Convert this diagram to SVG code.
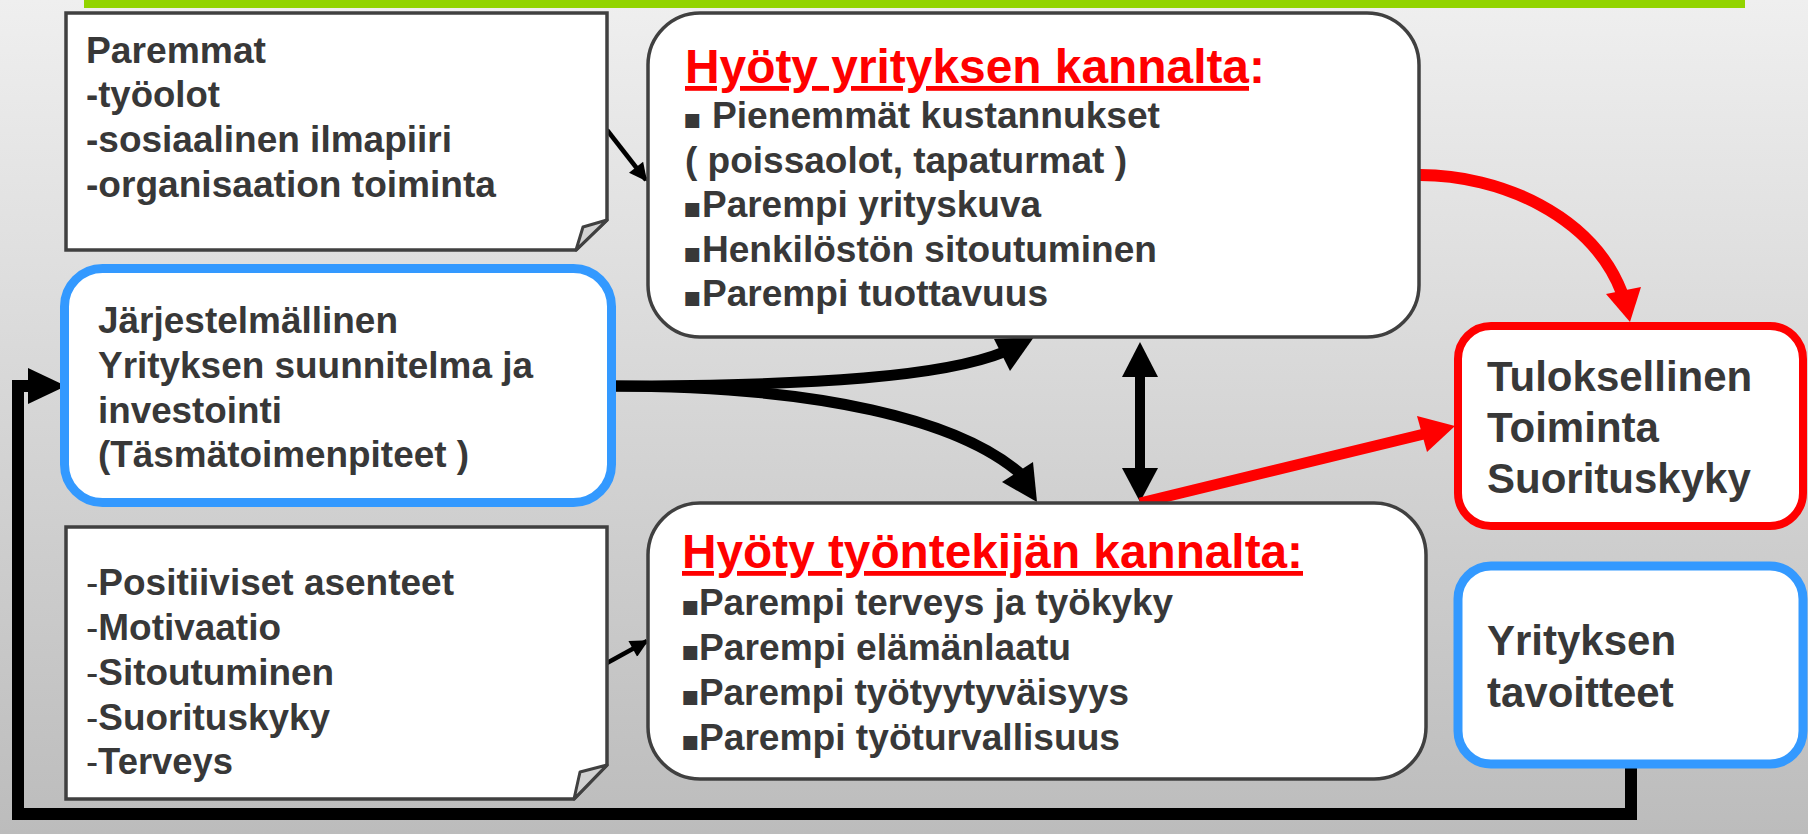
<svg xmlns="http://www.w3.org/2000/svg" width="1808" height="834" viewBox="0 0 1808 834">
<defs>
  <linearGradient id="bg" x1="0" y1="0" x2="0" y2="1">
    <stop offset="0" stop-color="#EFEFEF"/>
    <stop offset="1" stop-color="#BCBCBC"/>
  </linearGradient>
  <marker id="ahs" viewBox="0 0 10 10" refX="9" refY="5" markerWidth="4.5" markerHeight="4" orient="auto">
    <path d="M0,0 L10,5 L0,10 z" fill="#000"/>
  </marker>
  <style>
    .t{font-family:"Liberation Sans",Arial,sans-serif;font-weight:bold;font-size:36px;fill:#383838}
    .r{font-family:"Liberation Sans",Arial,sans-serif;font-weight:bold;font-size:42px;fill:#383838}
    .ttl{font-family:"Liberation Sans",Arial,sans-serif;font-weight:bold;font-size:48px;fill:#FF0000}
    .b{font-family:"DejaVu Sans",sans-serif;font-size:28px;font-weight:normal}
    .n{font-weight:normal}
    .note{fill:#fff;stroke:#404040;stroke-width:3.5;stroke-linejoin:miter}
    .fold{fill:#D2D2D2;stroke:#404040;stroke-width:3;stroke-linejoin:round}
    .mid{fill:#fff;stroke:#404040;stroke-width:3.5}
    .blue{fill:#fff;stroke:#3399FF;stroke-width:9}
    .red{fill:#fff;stroke:#FF0000;stroke-width:8}
    .blk{fill:none;stroke:#000}
    .rl{fill:none;stroke:#FF0000}
  </style>
</defs>
<rect x="0" y="0" width="1808" height="834" fill="url(#bg)"/>
<rect x="84" y="0" width="1661" height="8" fill="#92D400"/>

<g id="connectors">
  <!-- feedback loop -->
  <polyline class="blk" stroke-width="12" stroke-linejoin="miter" points="1631,766 1631,814 18,814 18,386 34,386"/>
  <polygon points="28,368 66,386 28,404" fill="#000"/>
  <!-- small arrows from notes -->
  <line class="blk" stroke-width="4.5" x1="607" y1="130" x2="646" y2="180" marker-end="url(#ahs)"/>
  <line class="blk" stroke-width="4.5" x1="607" y1="663" x2="647" y2="641" marker-end="url(#ahs)"/>
  <!-- split arrows from blue box -->
  <path class="blk" stroke-width="11" d="M610 386 C820 386 945 376 1004 352"/>
  <polygon points="994,339 1034,337 1010,371" fill="#000"/>
  <path class="blk" stroke-width="11" d="M610 386 C820 386 960 420 1022 475"/>
  <polygon points="1002,482 1033,462 1037,502" fill="#000"/>
  <!-- double headed vertical -->
  <line class="blk" stroke-width="10" x1="1140" y1="374" x2="1140" y2="471"/>
  <polygon points="1122,377 1140,342 1158,377" fill="#000"/>
  <polygon points="1122,468 1140,502 1158,468" fill="#000"/>
  <!-- red arrows -->
  <path class="rl" stroke-width="12" d="M1420 175 C1500 175 1592 215 1622 293"/>
  <polygon points="1606,294 1641,287 1630,322" fill="#FF0000"/>
  <line class="rl" stroke-width="11" x1="1140" y1="503" x2="1424" y2="434"/>
  <polygon points="1417,416 1455,426 1427,452" fill="#FF0000"/>
</g>

<g id="note-top">
  <path class="note" d="M66 13 H607 V220 L576 250 H66 Z"/>
  <path class="fold" d="M607 220 L583 227 L576 250 Z"/>
  <text class="t" x="86" y="63" textLength="180" lengthAdjust="spacingAndGlyphs">Paremmat</text>
  <text class="t" x="86" y="107" textLength="134" lengthAdjust="spacingAndGlyphs">-työolot</text>
  <text class="t" x="86" y="152" textLength="366" lengthAdjust="spacingAndGlyphs">-sosiaalinen ilmapiiri</text>
  <text class="t" x="86" y="197" textLength="410" lengthAdjust="spacingAndGlyphs">-organisaation toiminta</text>
</g>

<g id="plan">
  <rect class="blue" x="64.5" y="268.5" width="547" height="234" rx="38"/>
  <text class="t" x="98" y="333" textLength="300" lengthAdjust="spacingAndGlyphs">Järjestelmällinen</text>
  <text class="t" x="98" y="378" textLength="435" lengthAdjust="spacingAndGlyphs">Yrityksen suunnitelma ja</text>
  <text class="t" x="98" y="423" textLength="184" lengthAdjust="spacingAndGlyphs">investointi</text>
  <text class="t" x="98" y="467" textLength="371" lengthAdjust="spacingAndGlyphs">(Täsmätoimenpiteet )</text>
</g>

<g id="note-bottom">
  <path class="note" d="M66 527 H607 V765 L574 799 H66 Z"/>
  <path class="fold" d="M607 765 L580 772 L574 799 Z"/>
  <text class="t" x="86" y="595" textLength="368" lengthAdjust="spacingAndGlyphs"><tspan class="n">-</tspan>Positiiviset asenteet</text>
  <text class="t" x="86" y="640" textLength="195" lengthAdjust="spacingAndGlyphs"><tspan class="n">-</tspan>Motivaatio</text>
  <text class="t" x="86" y="685" textLength="248" lengthAdjust="spacingAndGlyphs"><tspan class="n">-</tspan>Sitoutuminen</text>
  <text class="t" x="86" y="730" textLength="244" lengthAdjust="spacingAndGlyphs"><tspan class="n">-</tspan>Suorituskyky</text>
  <text class="t" x="86" y="774" textLength="147" lengthAdjust="spacingAndGlyphs"><tspan class="n">-</tspan>Terveys</text>
</g>

<g id="company-benefit">
  <rect class="mid" x="648" y="13" width="771" height="324" rx="52"/>
  <text class="ttl" x="685" y="83" textLength="564" lengthAdjust="spacingAndGlyphs" text-decoration="underline">Hyöty yrityksen kannalta</text>
  <text class="ttl" x="1249" y="83">:</text>
  <text class="t" y="128"><tspan class="b" x="683">▪</tspan><tspan x="712" textLength="448" lengthAdjust="spacingAndGlyphs">Pienemmät kustannukset</tspan></text>
  <text class="t" x="685" y="173" textLength="442" lengthAdjust="spacingAndGlyphs">( poissaolot, tapaturmat )</text>
  <text class="t" y="217"><tspan class="b" x="683">▪</tspan><tspan x="702" textLength="339" lengthAdjust="spacingAndGlyphs">Parempi yrityskuva</tspan></text>
  <text class="t" y="262"><tspan class="b" x="683">▪</tspan><tspan x="702" textLength="455" lengthAdjust="spacingAndGlyphs">Henkilöstön sitoutuminen</tspan></text>
  <text class="t" y="306"><tspan class="b" x="683">▪</tspan><tspan x="702" textLength="346" lengthAdjust="spacingAndGlyphs">Parempi tuottavuus</tspan></text>
</g>

<g id="employee-benefit">
  <rect class="mid" x="648" y="503" width="778" height="276" rx="52"/>
  <text class="ttl" x="682" y="568" textLength="621" lengthAdjust="spacingAndGlyphs" text-decoration="underline">Hyöty työntekijän kannalta:</text>
  <text class="t" y="615"><tspan class="b" x="681">▪</tspan><tspan x="699" textLength="474" lengthAdjust="spacingAndGlyphs">Parempi terveys ja työkyky</tspan></text>
  <text class="t" y="660"><tspan class="b" x="681">▪</tspan><tspan x="699" textLength="372" lengthAdjust="spacingAndGlyphs">Parempi elämänlaatu</tspan></text>
  <text class="t" y="705"><tspan class="b" x="681">▪</tspan><tspan x="699" textLength="430" lengthAdjust="spacingAndGlyphs">Parempi työtyytyväisyys</tspan></text>
  <text class="t" y="750"><tspan class="b" x="681">▪</tspan><tspan x="699" textLength="421" lengthAdjust="spacingAndGlyphs">Parempi työturvallisuus</tspan></text>
</g>

<g id="result">
  <rect class="red" x="1458" y="326" width="345" height="200" rx="33"/>
  <text class="r" x="1487" y="391">Tuloksellinen</text>
  <text class="r" x="1487" y="442">Toiminta</text>
  <text class="r" x="1487" y="493">Suorituskyky</text>
</g>

<g id="goals">
  <rect class="blue" x="1458" y="566" width="345" height="198" rx="33" stroke-width="8"/>
  <text class="r" x="1487" y="655">Yrityksen</text>
  <text class="r" x="1487" y="707">tavoitteet</text>
</g>
</svg>
